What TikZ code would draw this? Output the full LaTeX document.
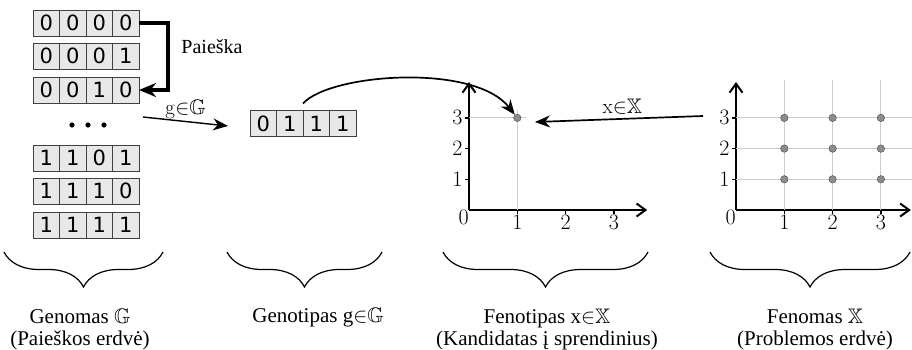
\RequirePackage{fix-cm}
\documentclass[tikz,border=0pt]{standalone}
\usepackage{amssymb}
\usepackage[no-math]{fontspec}
\setmainfont{Liberation Serif}
\newfontfamily\bitfont{DejaVu Sans}
\usetikzlibrary{arrows.meta,calc,decorations.pathreplacing}
\definecolor{cellgray}{gray}{0.91}
\definecolor{gridgray}{gray}{0.80}
\definecolor{dotgray}{gray}{0.55}
\tikzset{
  cell/.style={draw=black!75, fill=cellgray, minimum width=26.5pt, minimum height=26pt,
    inner sep=0pt, outer sep=0pt, font=\bitfont\fontsize{21}{21}\selectfont},
  search/.style={line width=4pt, -{Stealth[length=17pt,width=14pt]}},
  link/.style={line width=1.7pt, -{Stealth[length=15pt,width=12pt]}},
  axis/.style={line width=2pt, -{Straight Barb[length=9pt,width=13pt]}},
  gridline/.style={gridgray, line width=0.9pt},
  pt/.style={circle, draw=black!70, fill=dotgray, inner sep=0pt, minimum size=7.5pt},
  ticklab/.style={inner sep=2pt, font=\fontsize{22}{22}\selectfont},
  mathlab/.style={inner sep=2pt, font=\fontsize{21}{21}\selectfont},
  space/.style={decorate, decoration={brace, mirror, amplitude=35pt}, line width=1.2pt},
  caption/.style={align=center, font=\fontsize{21}{22}\selectfont}
}

\begin{document}
\begin{tikzpicture}[x=1pt, y=-1pt]
  \useasboundingbox (0,0) rectangle (912,349);

  % genome: all bit strings
  \foreach \word/\yy [count=\r] in {{0,0,0,0}/23, {0,0,0,1}/56, {0,0,1,0}/90,
                                    {1,1,0,1}/158, {1,1,1,0}/191, {1,1,1,1}/225}
    \foreach \b [count=\c] in \word
      \node[cell] (r\r-\c) at ({33+26.5*(\c-0.5)},\yy) {\b};
  \foreach \xx in {72,88,104}
    \fill (\xx,125) circle (2.6);
  \draw[search] (r1-4.east) -- ++(29,0) |- (r3-4.east);
  \node[font=\fontsize{20}{20}\selectfont] (srch) at (212,47) {Paieška};

  % genotype
  \foreach \b [count=\c] in {0,1,1,1}
    \node[cell] (g-\c) at ({250+26.5*(\c-0.5)},123.5) {\b};
  \coordinate (ga) at (143,117);
  \coordinate (gb) at (228,126);
  \draw[link, line width=1.4pt] (ga) -- (gb)
    node[mathlab, midway, above=0pt] (glab) {$\mathrm{g}{\in}\mathbb{G}$};

  % both coordinate systems
  \foreach \ox/\xe/\nm in {469/3.69/a, 736/3.62/b} {
    \begin{scope}[shift={(\ox,210)}, x=48.3pt, y=30.7pt]
      \draw[axis] (0,0) -- (\xe,0);
      \draw[axis] (0,0) -- (0,4.17);
      \foreach \i in {1,2,3} {
        \draw[line width=1.2pt] (\i,0) -- ++(0,-4pt)
          node[ticklab, below, inner sep=1pt] (x\nm-\i) {$\i$};
        \draw[line width=1.2pt] (0,\i) -- ++(-4pt,0)
          node[ticklab, left] (y\nm-\i) {$\i$};
      }
      \node[ticklab, below left, inner sep=0pt] (o\nm) at (0,0) {$0$};
    \end{scope}
  }

  % phenotype: one point
  \begin{scope}[shift={(469,210)}, x=48.3pt, y=30.7pt]
    \draw[gridline] (0,3) -- (1.17,3);
    \draw[gridline] (1,0) -- (1,3.26);
    \node[pt] (p) at (1,3) {};
  \end{scope}

  % phenome: all points
  \begin{scope}[shift={(736,210)}, x=48.3pt, y=30.7pt]
    \foreach \i in {1,2,3} {
      \draw[gridline] (\i,0) -- (\i,4.23);
      \draw[gridline] (0,\i) -- (3.64,\i);
    }
    \foreach \i in {1,2,3}
      \foreach \j in {1,2,3}
        \node[pt] (q-\i-\j) at (\i,\j) {};
  \end{scope}

  % mappings
  \draw[link] ([yshift=7pt]g-2.north east) .. controls +(27,-30) and +(-43,-55) .. (p);
  \coordinate (xa) at (703,116);
  \coordinate (xb) at (535,122);
  \draw[link] (xa) -- (xb)
    node[mathlab, pos=0.48, above=2pt] (xlab) {$\mathrm{x}{\in}\mathbb{X}$};

  % braces and captions
  \draw[space] (4,252) -- (163,252);
  \draw[space] (227,252) -- (382,252);
  \draw[space] (443,252) -- (648,252);
  \draw[space] (710,252) -- (910,252);
  \node[caption] (c1) at (80,329) {Genomas $\mathbb{G}$\\(Paieškos erdvė)};
  \node[caption] (c2) at (318,318) {Genotipas g${\in}\mathbb{G}$};
  \node[caption] (c3) at (547,329) {Fenotipas x${\in}\mathbb{X}$\\(Kandidatas į sprendinius)};
  \node[caption] (c4) at (815,329) {Fenomas $\mathbb{X}$\\(Problemos erdvė)};
\end{tikzpicture}
\end{document}
